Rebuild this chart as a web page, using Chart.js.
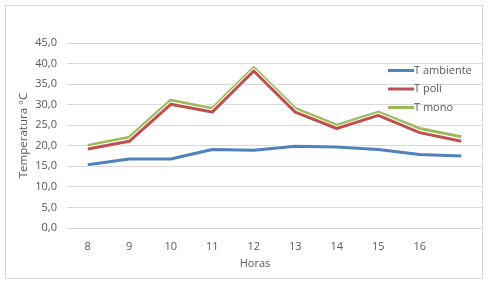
<!DOCTYPE html>
<html><head><meta charset="utf-8">
<script src="https://cdn.jsdelivr.net/npm/chart.js@4/dist/chart.umd.min.js"></script>
<style>html,body{margin:0;padding:0;background:#fff;}#wrap{width:489px;height:284px;position:relative}</style>
</head><body><div id="wrap"><canvas id="c" width="489" height="284"></canvas></div>
<script>
const categories = ['8','9','10','11','12','13','14','15','16',''];
const seriesNames = ['T ambiente','T poli','T mono'];
const tAmbiente = [15.4,16.8,16.8,19.1,18.9,19.9,19.7,19.1,17.9,17.5];
const tPoli = [19.2,21.1,30.1,28.2,38.2,28.2,24.2,27.4,23.2,21.1];
const tMono = [20.1,22.1,31.1,29.1,39.0,29.1,25.0,28.2,24.2,22.2];
const yMin = 0, yMax = 45, yStep = 5;
const xTitle = 'Horas';
const yTitle = 'Temperatura °C';

const FONT = "'Open Sans', 'Liberation Sans', sans-serif";
const TXT = '#595959';
const colors = ['#4F81BD','#C0504D','#9BBB59'];

const framePlugin = {
  id: 'frame',
  beforeDraw(chart) {
    const ctx = chart.ctx;
    ctx.save();
    ctx.fillStyle = '#fff';
    ctx.fillRect(0,0,chart.width,chart.height);
    ctx.strokeStyle = '#d9d9d9';
    ctx.lineWidth = 1;
    ctx.strokeRect(5.5,5.5,477,273);
    ctx.restore();
  }
};
const outlinePlugin = {
  id: 'outline',
  beforeDatasetDraw(chart, args) {
    const pts = args.meta.data;
    const ctx = chart.ctx;
    ctx.save();
    ctx.strokeStyle = '#ffffff';
    ctx.lineWidth = 5;
    ctx.lineJoin = 'round';
    ctx.beginPath();
    pts.forEach((p,i) => i ? ctx.lineTo(p.x,p.y) : ctx.moveTo(p.x,p.y));
    ctx.stroke();
    ctx.restore();
  }
};
const legendPlugin = {
  id: 'customLegend',
  afterDraw(chart) {
    const ctx = chart.ctx;
    ctx.save();
    ctx.font = '11px ' + FONT;
    ctx.textBaseline = 'middle';
    ctx.fillStyle = TXT;
    chart.data.datasets.forEach((ds,i) => {
      const y = 70.5 + i*18.5;
      ctx.strokeStyle = ds.borderColor;
      ctx.lineWidth = 3;
      ctx.beginPath(); ctx.moveTo(388,y); ctx.lineTo(414,y); ctx.stroke();
      ctx.fillText(ds.label, 414, y);
    });
    ctx.font = '11px ' + FONT;
    ctx.textAlign = 'center';
    ctx.fillText(xTitle, 255, 264);
    ctx.restore();
  }
};

new Chart(document.getElementById('c'), {
  type: 'line',
  data: {
    labels: categories,
    datasets: [
      {label: seriesNames[0], data: tAmbiente},
      {label: seriesNames[1], data: tPoli},
      {label: seriesNames[2], data: tMono}
    ].map((d,i) => Object.assign(d, {borderColor: colors[i], backgroundColor: colors[i], borderWidth: 3, pointRadius: 0, tension: 0, fill: false, borderJoinStyle: 'round'}))
  },
  options: {
    responsive: false, animation: false, devicePixelRatio: 1,
    layout: {padding: {left: 0, top: 43, right: 7, bottom: 0}},
    plugins: {legend: {display: false}, tooltip: {enabled: false}},
    scales: {
      x: {
        offset: true,
        grid: {display: false},
        border: {display: false},
        ticks: {color: TXT, font: {family: FONT, size: 11}, padding: 4, maxRotation: 0, autoSkip: false},
        afterFit(s) { s.height = 56; }
      },
      y: {
        min: yMin, max: yMax,
        grid: {color: '#d9d9d9', drawTicks: false},
        border: {display: false},
        ticks: {stepSize: yStep, color: TXT, font: {family: FONT, size: 11}, padding: 10,
          callback: v => v.toFixed(1).replace('.', ',')},
        title: {display: true, text: yTitle, color: TXT, font: {family: FONT, size: 11.5}, padding: {top: 17, bottom: 0}},
        afterFit(s) { s.width = 67; }
      }
    }
  },
  plugins: [framePlugin, outlinePlugin, legendPlugin]
});
</script></body></html>
